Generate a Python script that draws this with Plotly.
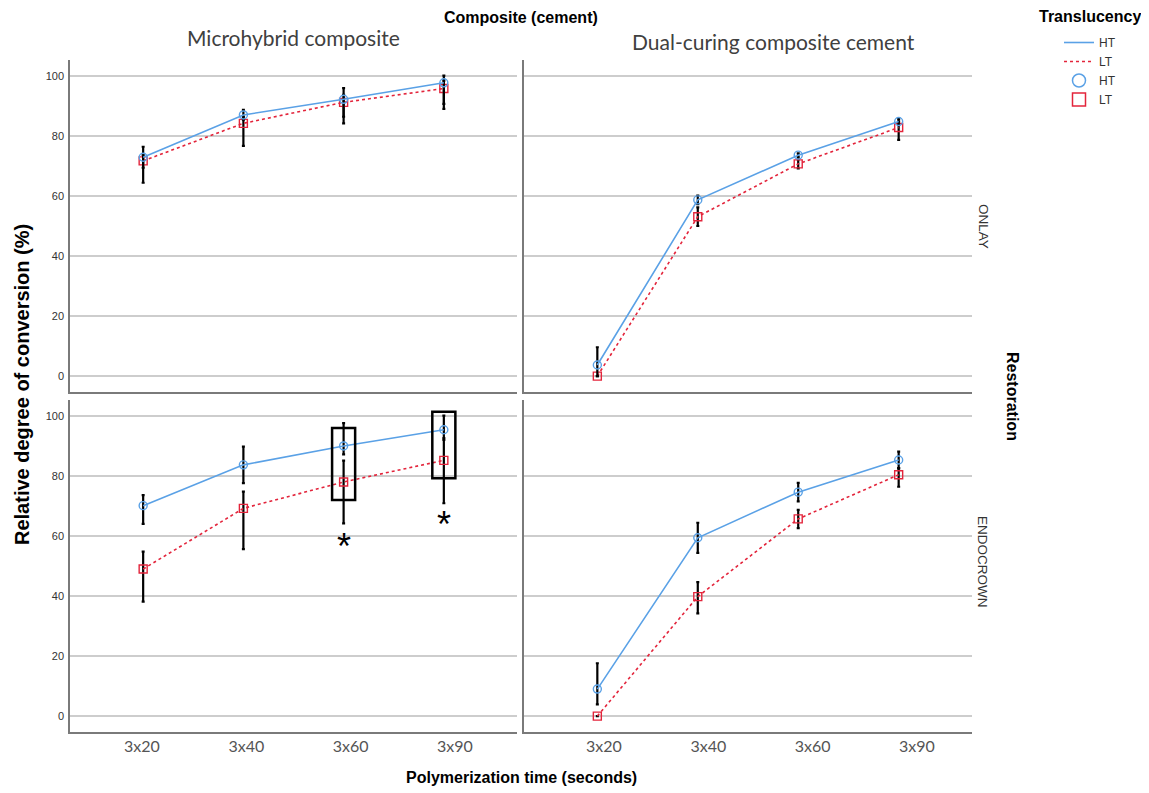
import plotly.graph_objects as go

# ---------------- data ----------------
categories = ["3x20", "3x40", "3x60", "3x90"]
composites = ["Microhybrid composite", "Dual-curing composite cement"]
restorations = ["ONLAY", "ENDOCROWN"]
y_ticks = [0, 20, 40, 60, 80, 100]

# ONLAY - Microhybrid composite
ht_onlay_micro = [72.9, 87.0, 92.2, 97.7]
ht_onlay_micro_up = [3.5, 1.7, 3.7, 2.4]
ht_onlay_micro_dn = [3.5, 1.6, 5.8, 7.0]
lt_onlay_micro = [71.7, 84.2, 91.2, 95.8]
lt_onlay_micro_up = [2.0, 2.2, 2.5, 2.6]
lt_onlay_micro_dn = [7.3, 7.5, 7.0, 6.8]

# ONLAY - Dual-curing composite cement
ht_onlay_dual = [3.7, 58.7, 73.6, 84.8]
ht_onlay_dual_up = [5.9, 1.4, 0.6, 0.9]
ht_onlay_dual_dn = [3.7, 1.4, 0.6, 1.0]
lt_onlay_dual = [0.0, 53.1, 70.7, 82.8]
lt_onlay_dual_up = [0.0, 3.1, 1.5, 2.0]
lt_onlay_dual_dn = [0.0, 3.1, 1.5, 4.1]

# ENDOCROWN - Microhybrid composite
ht_endo_micro = [70.1, 83.7, 90.0, 95.4]
ht_endo_micro_up = [3.5, 6.1, 7.6, 4.7]
ht_endo_micro_dn = [6.1, 6.1, 2.8, 2.8]
lt_endo_micro = [49.0, 69.2, 78.0, 85.2]
lt_endo_micro_up = [5.8, 5.6, 7.1, 6.8]
lt_endo_micro_dn = [10.9, 13.6, 13.8, 14.3]

# ENDOCROWN - Dual-curing composite cement
ht_endo_dual = [9.0, 59.4, 74.6, 85.3]
ht_endo_dual_up = [8.6, 5.0, 3.1, 2.8]
ht_endo_dual_dn = [5.1, 5.0, 3.1, 2.8]
lt_endo_dual = [0.0, 39.8, 65.7, 80.4]
lt_endo_dual_up = [0.0, 4.8, 3.0, 2.2]
lt_endo_dual_dn = [0.0, 5.6, 3.1, 4.0]

# significant differences (ENDOCROWN, Microhybrid composite)
sig_categories = ["3x60", "3x90"]

# ---------------- styles ----------------
PAGE_W, PAGE_H = 1149, 793
BODY = 8  # default page margin of the html body
W, H = PAGE_W - BODY, PAGE_H - BODY
BLUE = "#5aa1e6"
RED = "#e3243b"
GRID = "#cdcdcd"
AXIS = "#7a7a7a"
SANS = "Liberation Sans, Arial, sans-serif"
HUM = "Lato, Open Sans, sans-serif"


def px(x):
    return (x - BODY) / W


def py(y):
    return 1 - (y - BODY) / H


xdom = {1: [px(70), px(517)], 2: [px(524), px(972)]}
ydom = {0: [py(392), py(60)], 1: [py(732), py(400)]}
x_range = [-0.73, 3.73]
# category-label axes (labels sit slightly more spread than the points)
label_range = {1: [-0.69, 3.595], 2: [-0.767, 3.528]}
y_range = [-5.3, 105.3]

panels = [
    (0, 0, ht_onlay_micro, ht_onlay_micro_up, ht_onlay_micro_dn,
     lt_onlay_micro, lt_onlay_micro_up, lt_onlay_micro_dn),
    (0, 1, ht_onlay_dual, ht_onlay_dual_up, ht_onlay_dual_dn,
     lt_onlay_dual, lt_onlay_dual_up, lt_onlay_dual_dn),
    (1, 0, ht_endo_micro, ht_endo_micro_up, ht_endo_micro_dn,
     lt_endo_micro, lt_endo_micro_up, lt_endo_micro_dn),
    (1, 1, ht_endo_dual, ht_endo_dual_up, ht_endo_dual_dn,
     lt_endo_dual, lt_endo_dual_up, lt_endo_dual_dn),
]

xidx = list(range(len(categories)))
fig = go.Figure()
layout_axes = {}

for row, col, ht, htu, htd, lt, ltu, ltd in panels:
    n = row * 2 + col + 1
    xa = "x" if n == 1 else f"x{n}"
    ya = "y" if n == 1 else f"y{n}"
    for vals, up, dn, color, dash, sym in [
        (lt, ltu, ltd, RED, "dot", "square-open"),
        (ht, htu, htd, BLUE, "solid", "circle-open"),
    ]:
        fig.add_trace(go.Scatter(
            x=xidx, y=vals, xaxis=xa, yaxis=ya, mode="lines+markers",
            line=dict(color=color, width=1.6, dash=dash),
            marker=dict(symbol=sym, size=8, color=color, line=dict(width=1.4, color=color)),
            error_y=dict(type="data", symmetric=False, array=up, arrayminus=dn,
                         color="black", thickness=2.2, width=1.5),
            showlegend=False, hoverinfo="skip",
        ))
    kx = "xaxis" if n == 1 else f"xaxis{n}"
    ky = "yaxis" if n == 1 else f"yaxis{n}"
    layout_axes[kx] = dict(
        domain=xdom[col + 1], anchor=ya, range=x_range,
        tickvals=xidx, ticktext=categories, showticklabels=False,
        ticks="", showgrid=False, zeroline=False,
        showline=True, linecolor=AXIS, linewidth=1.5,
    )
    layout_axes[ky] = dict(
        domain=ydom[row], anchor=xa, range=y_range,
        tickvals=y_ticks, showticklabels=(col == 0), ticks="",
        showgrid=True, gridcolor=GRID, gridwidth=2, zeroline=False,
        showline=True, linecolor=AXIS, linewidth=1.5,
        tickfont=dict(family=SANS, size=11, color="#333333"),
        ticklabelstandoff=2,
    )
    if row == 1:
        m = 5 + col
        layout_axes[f"xaxis{m}"] = dict(
            overlaying=xa, anchor=ya, side="bottom", range=label_range[col + 1],
            tickvals=xidx, ticktext=categories, showticklabels=True,
            ticks="", showgrid=False, zeroline=False, showline=False,
            tickfont=dict(family=HUM, size=16, color="#555555"),
            ticklabelstandoff=3,
        )
        # empty carrier trace so the label axis gets drawn
        fig.add_trace(go.Scatter(
            x=xidx, y=[None] * len(xidx), xaxis=f"x{m}", yaxis=ya, mode="markers",
            marker=dict(opacity=0), showlegend=False, hoverinfo="skip",
        ))

# legend-only traces
for name, color, dash in [("HT", BLUE, "solid"), ("LT", RED, "dot")]:
    fig.add_trace(go.Scatter(x=[None], y=[None], mode="lines", name=name,
                             line=dict(color=color, width=1.6, dash=dash)))
for name, color, sym in [("HT", BLUE, "circle-open"), ("LT", RED, "square-open")]:
    fig.add_trace(go.Scatter(x=[None], y=[None], mode="markers", name=name,
                             marker=dict(symbol=sym, size=13, color=color,
                                         line=dict(width=1.5, color=color))))

# significance boxes and asterisks (ENDOCROWN, Microhybrid -> x3/y3)
shapes = []
annotations = []
for cat in sig_categories:
    i = categories.index(cat)
    shapes.append(dict(type="rect", xref="x3", yref="y3",
                       x0=i - 0.115, x1=i + 0.115,
                       y0=lt_endo_micro[i] - 6.0, y1=ht_endo_micro[i] + 6.0,
                       line=dict(color="black", width=2.5)))
    annotations.append(dict(xref="x3", yref="y3", x=i, y=lt_endo_micro[i] - 21.5,
                            text="*", showarrow=False, xanchor="center", yanchor="middle",
                            font=dict(family=SANS, size=36, color="black")))


def label(x, y, text, font, angle=0):
    return dict(xref="paper", yref="paper", x=px(x), y=py(y), text=text,
                textangle=angle, showarrow=False, xanchor="center", yanchor="middle",
                font=font)


annotations += [
    label(521, 18, "<b>Composite (cement)</b>", dict(family=SANS, size=16, color="black")),
    label(293, 38, composites[0], dict(family=HUM, size=21, color="#404040")),
    label(773, 42, composites[1], dict(family=HUM, size=21, color="#404040")),
    label(983, 226, restorations[0], dict(family=SANS, size=13.5, color="#333333"), 90),
    label(983, 562, restorations[1], dict(family=SANS, size=13.5, color="#333333"), 90),
    label(1013, 396, "<b>Restoration</b>", dict(family=SANS, size=16, color="black"), 90),
    label(22, 385, "<b>Relative degree of conversion (%)</b>",
          dict(family=SANS, size=20, color="black"), -90),
    label(521, 777, "<b>Polymerization time (seconds)</b>",
          dict(family=SANS, size=16, color="black")),
    label(1090, 17, "<b>Translucency</b>", dict(family=SANS, size=16, color="black")),
]

fig.update_layout(
    width=W, height=H,
    margin=dict(l=0, r=0, t=0, b=0),
    paper_bgcolor="white", plot_bgcolor="white",
    showlegend=True,
    legend=dict(x=px(1059), y=py(28), xanchor="left", yanchor="top",
                font=dict(family=SANS, size=12, color="#333333"),
                itemwidth=30, tracegroupgap=0, bgcolor="rgba(0,0,0,0)"),
    shapes=shapes, annotations=annotations,
    **layout_axes,
)

fig.write_html("out.html")
